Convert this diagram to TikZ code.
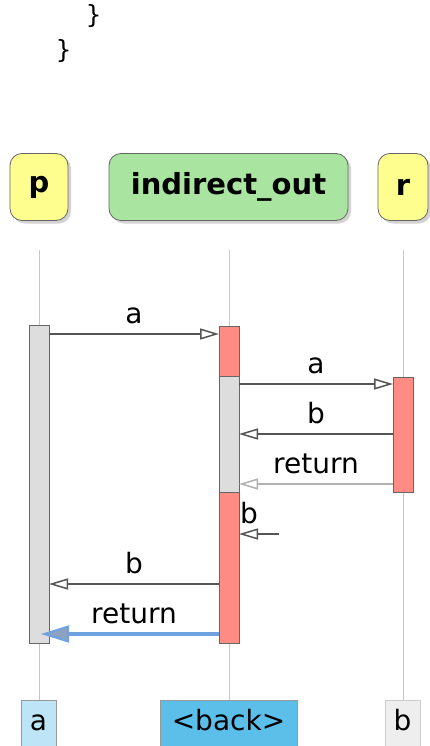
\documentclass[tikz,border=0pt]{standalone}
\usepackage{fontspec}
\setmainfont{DejaVu Sans}
\setmonofont{DejaVu Sans Mono}
\usetikzlibrary{arrows.meta,shadows}
\definecolor{partyellow}{HTML}{FEFE8E}
\definecolor{partgreen}{HTML}{A9E4A0}
\definecolor{barred}{HTML}{FF8C84}
\definecolor{bargrey}{HTML}{DDDDDD}
\definecolor{lifegrey}{HTML}{C8C8C8}
\definecolor{msggrey}{HTML}{555555}
\definecolor{retgrey}{HTML}{B0B0B0}
\definecolor{retblue}{HTML}{6FA3E0}
\definecolor{headblue}{HTML}{8CA2C0}
\definecolor{boxa}{HTML}{BEE5F7}
\definecolor{boxback}{HTML}{5BBFEA}
\definecolor{boxb}{HTML}{EEEEEE}
\tikzset{
  party/.style={draw=black!60, line width=0.8pt, rounded corners=12pt, minimum height=67pt, inner sep=0pt,
    font=\bfseries\fontsize{29}{32}\selectfont,
    drop shadow={shadow xshift=3pt, shadow yshift=-3pt, opacity=0.35, fill=black!50}},
  life/.style={draw=lifegrey, line width=1pt},
  actbar/.style={draw=black!60, line width=1pt, minimum width=20pt, inner sep=0pt},
  msg/.style={draw=msggrey, line width=1.5pt, -{Triangle[open, length=19pt, width=11pt, line width=1.5pt]}},
  retmsg/.style={draw=retgrey, line width=1.5pt, -{Triangle[open, length=19pt, width=11pt, line width=1.5pt]}},
  bluemsg/.style={draw=retblue, line width=3.5pt, -{Triangle[length=28pt, width=17pt, line width=2pt, fill=headblue]}},
  lbl/.style={anchor=base, inner sep=0pt, font=\fontsize{28}{32}\selectfont},
  endbox/.style={draw=black!40, line width=1pt, inner sep=0pt, minimum height=60pt, anchor=north, font=\fontsize{28}{32}\selectfont, text depth=0pt},
  code/.style={anchor=base west, inner sep=0pt, font=\ttfamily\fontsize{25}{28}\selectfont}
}
\begin{document}
\begin{tikzpicture}[x=1pt,y=-1pt]
\useasboundingbox (0,0) rectangle (430,746);
\begin{scope}
\clip (0,0) rectangle (430,746);
% code fragment
\node[code] (c1) at (86,23.5) {\}};
\node[code] (c2) at (56,58.5) {\}};

% lifelines
\coordinate (lp1) at (39,250); \coordinate (lp2) at (39,700);
\coordinate (li1) at (229,250); \coordinate (li2) at (229,700);
\coordinate (lr1) at (403,250); \coordinate (lr2) at (403,700);
\draw[life] (lp1) -- (lp2);
\draw[life] (li1) -- (li2);
\draw[life] (lr1) -- (lr2);

% participants
\node[party, fill=partyellow, minimum width=58pt] (p) at (39,187) {p};
\node[party, fill=partgreen, minimum width=239pt] (io) at (228.5,187) {indirect\_out};
\node[party, fill=partyellow, minimum width=50pt] (r) at (403,187) {r};

% activation bars
\node[actbar, fill=bargrey, minimum height=318pt] (pbar) at (39,484) {};
\node[actbar, fill=barred, minimum height=317pt] (iored) at (229,484.5) {};
\node[actbar, fill=bargrey, minimum height=116pt] (iogrey) at (229,434) {};
\node[actbar, fill=barred, minimum height=115pt] (rbar) at (403,434.5) {};

% message endpoints
\coordinate (m1s) at (49,334);  \coordinate (m1e) at (219,334);
\coordinate (m2s) at (239,384); \coordinate (m2e) at (393,384);
\coordinate (m3s) at (393,434); \coordinate (m3e) at (239,434);
\coordinate (m4s) at (393,484); \coordinate (m4e) at (239,484);
\coordinate (m5s) at (279,534); \coordinate (m5e) at (239,534);
\coordinate (m6s) at (219,584); \coordinate (m6e) at (49,584);
\coordinate (m7s) at (219,634); \coordinate (m7e) at (41,634);

\draw[msg] (m1s) -- (m1e);
\draw[msg] (m2s) -- (m2e);
\draw[msg] (m3s) -- (m3e);
\draw[retmsg] (m4s) -- (m4e);
\draw[msg] (m5s) -- (m5e);
\draw[msg] (m6s) -- (m6e);
\draw[bluemsg] (m7s) -- (m7e);

% labels
\node[lbl] (l1) at (134,323) {a};
\node[lbl] (l2) at (316,373) {a};
\node[lbl] (l3) at (316,423) {b};
\node[lbl] (l4) at (316,473) {return};
\node[lbl, anchor=base west] (l5) at (240,523) {b};
\node[lbl] (l6) at (134,573) {b};
\node[lbl] (l7) at (134,623) {return};

% end boxes
\node[endbox, fill=boxa, minimum width=35pt] (ea) at (38.5,700) {};
\node[lbl] at (38.5,730) {a};
\node[endbox, fill=boxback, minimum width=137pt] (eback) at (228.5,700) {};
\node[lbl] at (228.5,730) {<back>};
\node[endbox, fill=boxb, draw=black!20, minimum width=35pt] (eb) at (402.5,700) {};
\node[lbl] at (402.5,730) {b};
\end{scope}
\end{tikzpicture}
\end{document}
